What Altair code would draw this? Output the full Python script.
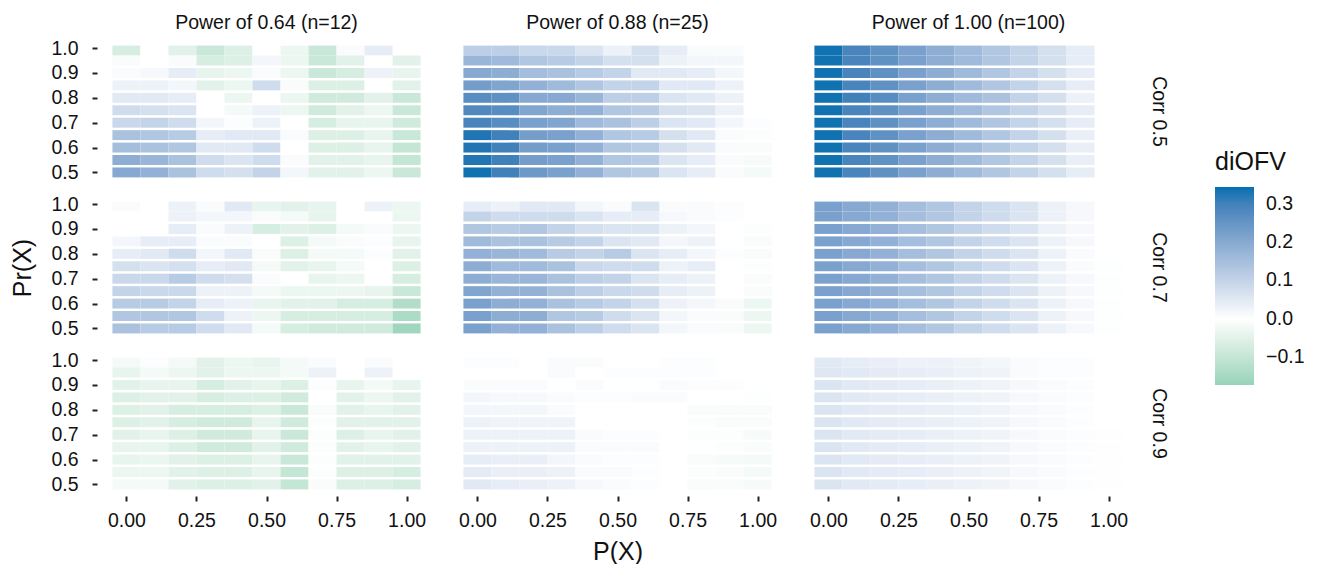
import altair as alt
import pandas as pd

# Grid coordinates
px_values = [0.0, 0.1, 0.2, 0.3, 0.4, 0.5, 0.6, 0.7, 0.8, 0.9, 1.0]
# rows listed top to bottom
prx_values = [0.99, 0.95, 0.90, 0.85, 0.80, 0.75, 0.70, 0.65, 0.60, 0.55, 0.50]

powers = ["Power of 0.64 (n=12)", "Power of 0.88 (n=25)", "Power of 1.00 (n=100)"]
corrs = ["Corr 0.5", "Corr 0.7", "Corr 0.9"]

N = None
# diOFV values, each row = one Pr(X) level (top to bottom), columns = P(X) 0..1
c05_p064 = [
    [-0.07, 0.00, -0.05, -0.09, -0.06, 0.00, -0.03, -0.09, 0.01, 0.04, N],
    [-0.01, 0.00, 0.01, -0.07, -0.06, 0.02, -0.03, -0.09, -0.05, 0.00, -0.05],
    [0.01, 0.015, 0.04, -0.04, -0.03, 0.01, -0.03, -0.09, -0.07, 0.03, -0.04],
    [0.03, 0.03, 0.02, -0.05, -0.03, 0.08, -0.01, -0.06, -0.06, 0.00, -0.05],
    [0.05, 0.05, 0.04, 0.00, -0.03, 0.00, -0.03, -0.08, -0.08, -0.05, -0.09],
    [0.08, 0.07, 0.06, 0.00, -0.02, 0.03, -0.03, -0.08, -0.05, -0.03, -0.09],
    [0.09, 0.10, 0.08, 0.02, 0.005, 0.03, 0.00, -0.07, -0.04, -0.04, -0.08],
    [0.14, 0.13, 0.12, 0.04, 0.05, 0.05, 0.01, -0.06, -0.06, -0.04, -0.09],
    [0.15, 0.14, 0.13, 0.05, 0.05, 0.08, 0.00, -0.06, -0.06, -0.04, -0.10],
    [0.19, 0.17, 0.14, 0.08, 0.06, 0.08, 0.01, -0.05, -0.05, -0.04, -0.10],
    [0.20, 0.18, 0.14, 0.08, 0.07, 0.10, 0.02, -0.05, -0.05, -0.03, -0.09],
]
c05_p088 = [
    [0.11, 0.11, 0.09, 0.09, 0.06, 0.03, 0.07, 0.04, 0.01, 0.01, N],
    [0.17, 0.16, 0.13, 0.12, 0.10, 0.07, 0.07, 0.03, 0.02, 0.02, N],
    [0.20, 0.19, 0.15, 0.14, 0.12, 0.10, 0.05, 0.05, 0.04, 0.02, N],
    [0.23, 0.21, 0.18, 0.16, 0.13, 0.10, 0.10, 0.05, 0.05, 0.03, N],
    [0.27, 0.26, 0.20, 0.20, 0.17, 0.11, 0.11, 0.06, 0.05, 0.03, N],
    [0.28, 0.27, 0.21, 0.19, 0.18, 0.13, 0.12, 0.07, 0.06, 0.03, N],
    [0.29, 0.27, 0.22, 0.21, 0.16, 0.14, 0.11, 0.06, 0.05, 0.02, 0.005],
    [0.33, 0.30, 0.23, 0.22, 0.18, 0.13, 0.12, 0.07, 0.05, 0.01, -0.005],
    [0.33, 0.30, 0.23, 0.22, 0.18, 0.13, 0.12, 0.07, 0.05, 0.01, -0.01],
    [0.33, 0.30, 0.23, 0.22, 0.18, 0.13, 0.12, 0.06, 0.04, 0.01, -0.015],
    [0.34, 0.30, 0.24, 0.22, 0.18, 0.13, 0.12, 0.06, 0.04, 0.01, -0.02],
]
c05_p100 = [
    [0.34, 0.29, 0.26, 0.22, 0.19, 0.16, 0.13, 0.10, 0.07, 0.04, N],
    [0.34, 0.29, 0.26, 0.22, 0.19, 0.16, 0.13, 0.10, 0.07, 0.04, N],
    [0.34, 0.29, 0.26, 0.22, 0.19, 0.16, 0.13, 0.10, 0.07, 0.04, N],
    [0.34, 0.29, 0.26, 0.22, 0.19, 0.16, 0.13, 0.10, 0.07, 0.04, N],
    [0.34, 0.30, 0.27, 0.22, 0.19, 0.16, 0.14, 0.10, 0.07, 0.03, N],
    [0.34, 0.29, 0.26, 0.22, 0.19, 0.16, 0.13, 0.10, 0.07, 0.04, N],
    [0.34, 0.29, 0.26, 0.22, 0.19, 0.16, 0.13, 0.10, 0.07, 0.04, N],
    [0.34, 0.29, 0.26, 0.22, 0.19, 0.16, 0.13, 0.10, 0.07, 0.035, N],
    [0.34, 0.29, 0.26, 0.22, 0.19, 0.16, 0.13, 0.10, 0.07, 0.035, N],
    [0.34, 0.29, 0.26, 0.22, 0.19, 0.16, 0.13, 0.10, 0.07, 0.035, N],
    [0.34, 0.29, 0.26, 0.22, 0.19, 0.16, 0.13, 0.10, 0.07, 0.04, N],
]
c07_p064 = [
    [-0.01, 0.00, 0.03, 0.01, 0.05, -0.04, -0.05, -0.04, 0.00, 0.03, -0.03],
    [0.00, 0.00, 0.03, 0.02, 0.02, -0.01, -0.02, -0.04, 0.00, 0.00, -0.03],
    [0.00, 0.00, 0.04, 0.01, 0.03, -0.07, -0.05, -0.06, -0.02, 0.01, -0.03],
    [0.02, 0.04, 0.04, 0.01, 0.01, 0.00, -0.06, -0.02, 0.01, 0.005, -0.04],
    [0.04, 0.05, 0.08, 0.02, 0.05, -0.01, -0.06, -0.02, -0.02, 0.005, -0.05],
    [0.07, 0.06, 0.07, 0.04, 0.05, -0.02, -0.05, -0.04, -0.02, 0.00, -0.06],
    [0.09, 0.09, 0.12, 0.08, 0.07, 0.01, 0.00, -0.04, -0.03, 0.00, -0.07],
    [0.10, 0.09, 0.09, 0.03, 0.03, -0.02, -0.03, -0.03, -0.03, -0.04, -0.09],
    [0.12, 0.12, 0.10, 0.04, 0.03, -0.04, -0.05, -0.05, -0.07, -0.07, -0.13],
    [0.13, 0.13, 0.13, 0.08, 0.03, -0.03, -0.07, -0.07, -0.07, -0.07, -0.14],
    [0.14, 0.12, 0.12, 0.08, 0.05, -0.02, -0.07, -0.08, -0.08, -0.08, -0.16],
]
c07_p088 = [
    [0.04, 0.03, 0.05, 0.05, 0.02, 0.01, 0.06, 0.01, 0.01, 0.005, N],
    [0.10, 0.08, 0.08, 0.08, 0.06, 0.04, 0.04, 0.015, 0.01, 0.005, N],
    [0.13, 0.12, 0.13, 0.10, 0.07, 0.06, 0.06, 0.03, 0.02, 0.00, -0.005],
    [0.16, 0.14, 0.14, 0.12, 0.10, 0.06, 0.05, 0.02, 0.03, 0.00, -0.01],
    [0.18, 0.17, 0.16, 0.12, 0.10, 0.12, 0.06, 0.04, 0.02, 0.005, -0.01],
    [0.19, 0.16, 0.16, 0.14, 0.09, 0.08, 0.08, 0.03, 0.04, 0.00, -0.005],
    [0.19, 0.17, 0.17, 0.14, 0.11, 0.10, 0.06, 0.04, 0.03, 0.00, -0.01],
    [0.21, 0.18, 0.18, 0.14, 0.11, 0.09, 0.08, 0.04, 0.03, 0.00, -0.01],
    [0.22, 0.19, 0.18, 0.14, 0.12, 0.10, 0.07, 0.03, 0.02, -0.01, -0.03],
    [0.22, 0.19, 0.19, 0.13, 0.12, 0.08, 0.06, 0.02, 0.01, -0.01, -0.03],
    [0.22, 0.18, 0.18, 0.14, 0.11, 0.08, 0.06, 0.02, 0.01, -0.01, -0.03],
]
c07_p100 = [
    [0.22, 0.20, 0.18, 0.15, 0.13, 0.10, 0.08, 0.06, 0.03, 0.015, N],
    [0.22, 0.20, 0.18, 0.15, 0.13, 0.10, 0.08, 0.06, 0.03, 0.015, N],
    [0.22, 0.20, 0.18, 0.15, 0.13, 0.10, 0.08, 0.06, 0.03, 0.015, N],
    [0.22, 0.20, 0.18, 0.15, 0.13, 0.10, 0.08, 0.06, 0.03, 0.015, N],
    [0.22, 0.20, 0.18, 0.15, 0.13, 0.10, 0.08, 0.06, 0.03, 0.01, N],
    [0.22, 0.20, 0.18, 0.15, 0.13, 0.10, 0.08, 0.06, 0.03, 0.01, 0.003],
    [0.22, 0.20, 0.18, 0.15, 0.13, 0.10, 0.08, 0.06, 0.03, 0.015, 0.003],
    [0.22, 0.20, 0.18, 0.15, 0.13, 0.10, 0.08, 0.06, 0.03, 0.015, 0.003],
    [0.22, 0.20, 0.18, 0.15, 0.13, 0.10, 0.08, 0.06, 0.03, 0.015, 0.003],
    [0.22, 0.20, 0.18, 0.15, 0.13, 0.10, 0.08, 0.06, 0.03, 0.015, 0.003],
    [0.22, 0.20, 0.18, 0.15, 0.13, 0.10, 0.08, 0.06, 0.03, 0.015, 0.003],
]
c09_p064 = [
    [-0.02, 0.005, -0.02, -0.05, -0.03, -0.04, -0.02, 0.01, 0.00, 0.01, N],
    [-0.04, -0.02, -0.03, -0.05, -0.03, -0.03, -0.02, 0.03, 0.00, 0.03, N],
    [-0.05, -0.04, -0.04, -0.07, -0.05, -0.04, -0.06, 0.005, -0.04, -0.02, -0.04],
    [-0.06, -0.05, -0.05, -0.07, -0.06, -0.06, -0.08, 0.00, -0.05, -0.03, -0.05],
    [-0.06, -0.05, -0.07, -0.07, -0.07, -0.06, -0.09, -0.01, -0.05, -0.04, -0.05],
    [-0.06, -0.05, -0.07, -0.08, -0.08, -0.04, -0.08, -0.005, -0.05, -0.05, -0.05],
    [-0.05, -0.04, -0.06, -0.08, -0.08, -0.04, -0.09, -0.005, -0.06, -0.04, -0.05],
    [-0.04, -0.04, -0.06, -0.08, -0.08, -0.05, -0.08, -0.005, -0.05, -0.04, -0.05],
    [-0.04, -0.035, -0.05, -0.06, -0.06, -0.04, -0.09, -0.005, -0.05, -0.05, -0.05],
    [-0.03, -0.03, -0.05, -0.06, -0.06, -0.04, -0.10, -0.005, -0.06, -0.06, -0.07],
    [-0.02, -0.02, -0.05, -0.06, -0.06, -0.05, -0.10, -0.01, -0.06, -0.06, -0.07],
]
c09_p088 = [
    [0.005, 0.005, 0.00, 0.01, -0.01, 0.00, 0.00, 0.005, 0.005, 0.00, N],
    [0.00, 0.00, 0.00, 0.01, 0.00, 0.005, 0.005, 0.005, 0.005, 0.00, N],
    [0.01, 0.01, 0.01, 0.00, 0.01, 0.00, 0.00, 0.01, 0.005, 0.005, N],
    [0.02, 0.015, 0.015, 0.01, 0.005, 0.005, 0.01, 0.01, 0.00, 0.00, -0.003],
    [0.02, 0.02, 0.02, 0.01, 0.00, 0.00, 0.00, 0.00, -0.01, -0.01, -0.01],
    [0.03, 0.025, 0.025, 0.025, 0.00, 0.00, 0.00, 0.00, -0.005, -0.01, -0.01],
    [0.03, 0.03, 0.03, 0.03, 0.01, 0.005, 0.005, 0.00, -0.005, -0.005, -0.015],
    [0.03, 0.03, 0.03, 0.03, 0.01, 0.01, 0.01, 0.00, 0.00, -0.005, -0.01],
    [0.04, 0.035, 0.035, 0.02, 0.01, 0.005, 0.005, 0.00, -0.01, -0.015, -0.02],
    [0.045, 0.035, 0.035, 0.03, 0.01, 0.01, 0.005, 0.00, -0.005, -0.01, -0.02],
    [0.05, 0.04, 0.035, 0.03, 0.015, 0.01, 0.005, 0.00, -0.01, -0.01, -0.015],
]
c09_p100 = [
    [0.05, 0.04, 0.035, 0.03, 0.03, 0.025, 0.02, 0.01, 0.005, 0.005, N],
    [0.055, 0.05, 0.045, 0.04, 0.035, 0.03, 0.025, 0.01, 0.005, 0.005, N],
    [0.06, 0.05, 0.045, 0.04, 0.035, 0.03, 0.025, 0.015, 0.01, 0.005, N],
    [0.06, 0.05, 0.045, 0.04, 0.035, 0.03, 0.025, 0.015, 0.01, 0.005, N],
    [0.06, 0.05, 0.045, 0.04, 0.035, 0.03, 0.025, 0.015, 0.01, 0.005, N],
    [0.06, 0.05, 0.045, 0.04, 0.035, 0.03, 0.025, 0.015, 0.01, 0.005, N],
    [0.06, 0.05, 0.045, 0.04, 0.035, 0.03, 0.025, 0.015, 0.01, 0.005, 0.002],
    [0.06, 0.05, 0.045, 0.04, 0.035, 0.03, 0.025, 0.015, 0.01, 0.005, 0.002],
    [0.06, 0.05, 0.045, 0.04, 0.035, 0.03, 0.025, 0.015, 0.01, 0.005, 0.002],
    [0.06, 0.05, 0.045, 0.04, 0.035, 0.03, 0.025, 0.015, 0.01, 0.005, 0.002],
    [0.06, 0.05, 0.045, 0.04, 0.035, 0.03, 0.025, 0.015, 0.01, 0.005, 0.002],
]

panels = {
    ("Corr 0.5", powers[0]): c05_p064,
    ("Corr 0.5", powers[1]): c05_p088,
    ("Corr 0.5", powers[2]): c05_p100,
    ("Corr 0.7", powers[0]): c07_p064,
    ("Corr 0.7", powers[1]): c07_p088,
    ("Corr 0.7", powers[2]): c07_p100,
    ("Corr 0.9", powers[0]): c09_p064,
    ("Corr 0.9", powers[1]): c09_p088,
    ("Corr 0.9", powers[2]): c09_p100,
}

records = []
for (corr, power), mat in panels.items():
    for yi, prx in enumerate(prx_values):
        for xi, p in enumerate(px_values):
            v = mat[yi][xi]
            if v is None:
                continue
            records.append({
                "corr": corr, "power": power,
                "px": p, "px0": p - 0.05, "px1": p + 0.05,
                "prx": prx, "prx0": prx - 0.02, "prx1": prx + 0.02,
                "diOFV": v,
            })
df = pd.DataFrame(records)

FONT = "Liberation Sans"
SMALL = 19.5
BIG = 25

base = alt.Chart(df).mark_rect(strokeWidth=0).encode(
    x=alt.X("px0:Q",
            scale=alt.Scale(domain=[-0.105, 1.105], nice=False, zero=False),
            axis=alt.Axis(values=[0, 0.25, 0.5, 0.75, 1.0], format=".2f",
                          title=None, grid=False, domain=False,
                          tickSize=5, tickWidth=2, tickColor="#222",
                          labelFontSize=SMALL, labelColor="#111", labelPadding=10)),
    x2="px1:Q",
    y=alt.Y("prx0:Q",
            scale=alt.Scale(domain=[0.4535, 1.0365], nice=False, zero=False),
            axis=alt.Axis(values=[0.5, 0.6, 0.7, 0.8, 0.9, 1.0], format=".1f",
                          title=None, grid=False, domain=False,
                          tickSize=5, tickWidth=2, tickColor="#222",
                          labelFontSize=SMALL, labelColor="#111", labelPadding=14)),
    y2="prx1:Q",
    color=alt.Color("diOFV:Q",
                    scale=alt.Scale(domain=[-0.173, 0.0, 0.344],
                                    range=["#98d3b8", "#ffffff", "#0570b0"],
                                    interpolate="lab"),
                    legend=alt.Legend(title="diOFV", orient="none",
                                      legendX=1118, legendY=111,
                                      values=[-0.1, 0.0, 0.1, 0.2, 0.3],
                                      format=".1f",
                                      gradientLength=198, gradientThickness=39,
                                      labelFontSize=SMALL, titleFontSize=BIG,
                                      titleFontWeight="normal", titlePadding=12,
                                      labelColor="#111", titleColor="#111",
                                      labelOffset=12)),
).properties(width=339, height=145)

chart = base.facet(
    row=alt.Row("corr:N", sort=corrs, title="Pr(X)",
                header=alt.Header(labelOrient="right", labelAngle=90,
                                  labelFontSize=SMALL, labelColor="#111",
                                  labelPadding=10, labelFont=FONT,
                                  titleOrient="left", titleFontSize=BIG,
                                  titleFontWeight="normal", titleColor="#111",
                                  titleFont=FONT, titlePadding=4)),
    column=alt.Column("power:N", sort=powers, title="P(X)",
                      header=alt.Header(labelOrient="top",
                                        labelFontSize=SMALL, labelColor="#111",
                                        labelPadding=6, labelFont=FONT,
                                        titleOrient="bottom", titleFontSize=BIG,
                                        titleFontWeight="normal", titleColor="#111",
                                        titleFont=FONT, titlePadding=0)),
    spacing={"row": 11, "column": 12},
).properties(
    padding={"left": 10, "top": 12, "right": 5, "bottom": 0}
).configure(font=FONT).configure_view(stroke=None).configure_axis(
    labelFont=FONT, titleFont=FONT
).configure_legend(labelFont=FONT, titleFont=FONT)

chart.save("out.html", embed_options={"renderer": "svg", "actions": False})
